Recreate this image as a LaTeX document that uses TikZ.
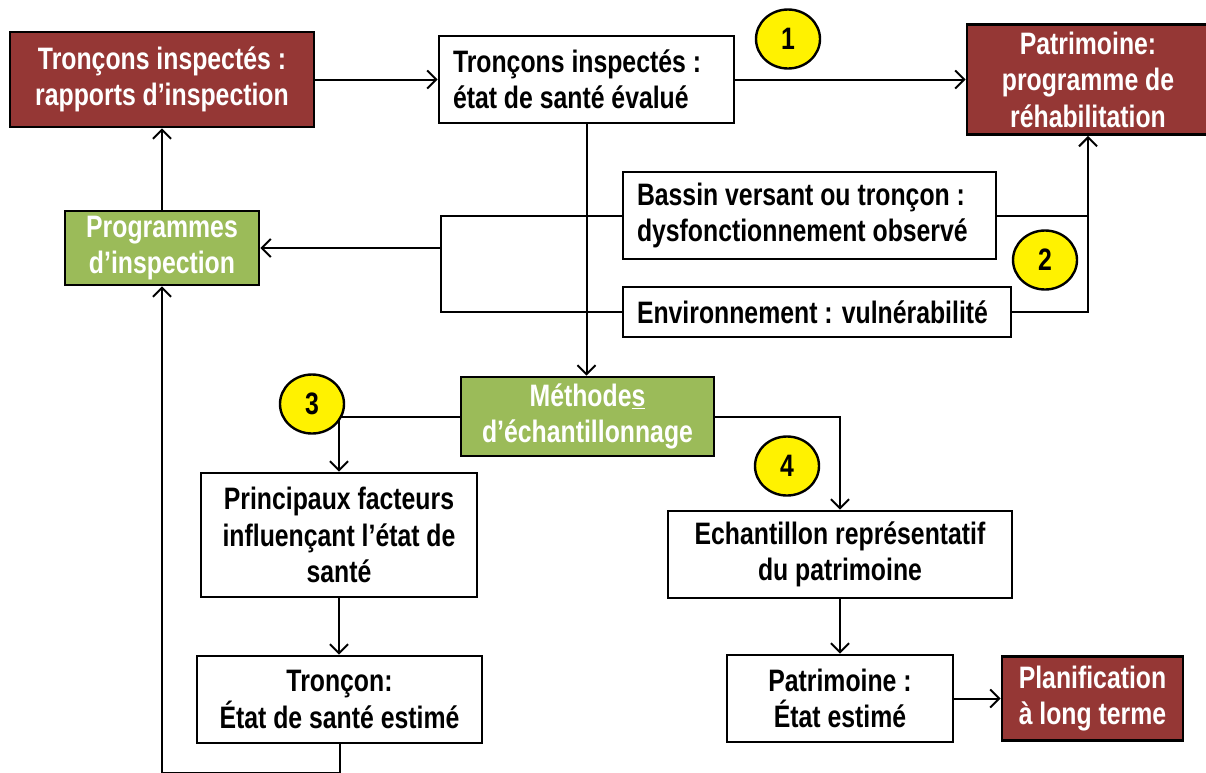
\documentclass[tikz,border=0pt]{standalone}
\usepackage{fontspec}
\setmainfont[FakeStretch=0.8]{Liberation Sans}
\usetikzlibrary{arrows.meta,shapes.geometric}
\definecolor{brique}{HTML}{953735}
\definecolor{vertprog}{HTML}{9BBB59}

\begin{document}
\begin{tikzpicture}[x=1pt, y=-1pt, line width=2pt,
    >={Straight Barb[length=9pt,width=18pt]},
    boite/.style={draw, line width=2.8pt, inner sep=0pt, align=center,
        font=\bfseries\fontsize{31}{36.5}\selectfont},
    rouge/.style={boite, fill=brique, text=white},
    vert/.style={boite, fill=vertprog, text=white},
    blanc/.style={boite, fill=white},
    gauche/.style={blanc, align=flush left, inner xsep=14pt},
    numero/.style={ellipse, draw, fill=yellow, line width=2.4pt, inner sep=0pt,
        minimum width=64pt, minimum height=59pt,
        font=\bfseries\fontsize{31}{31}\selectfont}]
    \useasboundingbox (0, 0) rectangle (1206, 772);

    \coordinate (brk) at (441, 248);
    \coordinate (bas) at (162, 773);

    % boites
    \node[rouge, minimum width=304pt, minimum height=95pt] (insp) at (162, 79.5) {Tronçons inspectés :\\rapports d’inspection};
    \node[gauche, text width=267pt, minimum height=87pt] (eval) at (586.5, 79.5) {Tronçons inspectés :\\état de santé évalué};
    \node[rouge, minimum width=242pt, minimum height=110pt] (rehab) at (1088, 79.5) {Patrimoine:\\programme de\\réhabilitation};
    \node[vert, minimum width=194pt, minimum height=74pt] (prog) at (162, 248) {Programmes\\d’inspection};
    \node[gauche, text width=345pt, minimum height=87pt] (bassin) at (809.5, 215.5) {Bassin versant ou tronçon :\\dysfonctionnement observé};
    \node[gauche, text width=360pt, minimum height=50pt] (env) at (817, 312) {\mbox{Environnement : vulnérabilité}};
    \node[vert, minimum width=253pt, minimum height=79pt] (meth) at (587.5, 416.5) {Méthode\underline{s}\\d’échantillonnage};
    \node[blanc, minimum width=276pt, minimum height=124pt] (fact) at (339, 535) {Principaux facteurs\\influençant l’état de\\santé};
    \node[blanc, minimum width=285pt, minimum height=87pt] (tronc) at (339.5, 699.5) {Tronçon:\\État de santé estimé};
    \node[blanc, minimum width=344pt, minimum height=87pt] (echant) at (840, 554.5) {Echantillon représentatif\\du patrimoine};
    \node[blanc, minimum width=226pt, minimum height=87pt] (patr) at (840, 698.5) {Patrimoine :\\État estimé};
    \node[rouge, minimum width=181pt, minimum height=84pt] (plan) at (1092.5, 698.5) {Planification\\à long terme};

    % liens
    \draw[->] (insp) -- (eval);
    \draw[->] (eval) -- (rehab);
    \draw (bassin.east) -- (bassin.east -| rehab.south);
    \draw[->] (env.east) -| (rehab.south);
    \draw (bassin.west) -| (brk) |- (env.west);
    \draw[->] (brk) -- (prog.east);
    \draw[->] (prog) -- (insp);
    \draw[->] (eval.south) -- (eval.south |- meth.north);
    \draw[->] (meth.west) -| (fact.north);
    \draw[->] (meth.east) -| (echant.north);
    \draw[->] (fact.south) -- (fact.south |- tronc.north);
    \draw[->] (echant) -- (patr);
    \draw[->] (patr) -- (plan);
    \draw[->] (tronc.south) |- (bas) -- (prog.south);

    % numeros
    \node[numero] (n1) at (788, 39) {1};
    \node[numero] (n2) at (1045, 260) {2};
    \node[numero] (n3) at (312, 404) {3};
    \node[numero] (n4) at (787, 466) {4};
\end{tikzpicture}
\end{document}
